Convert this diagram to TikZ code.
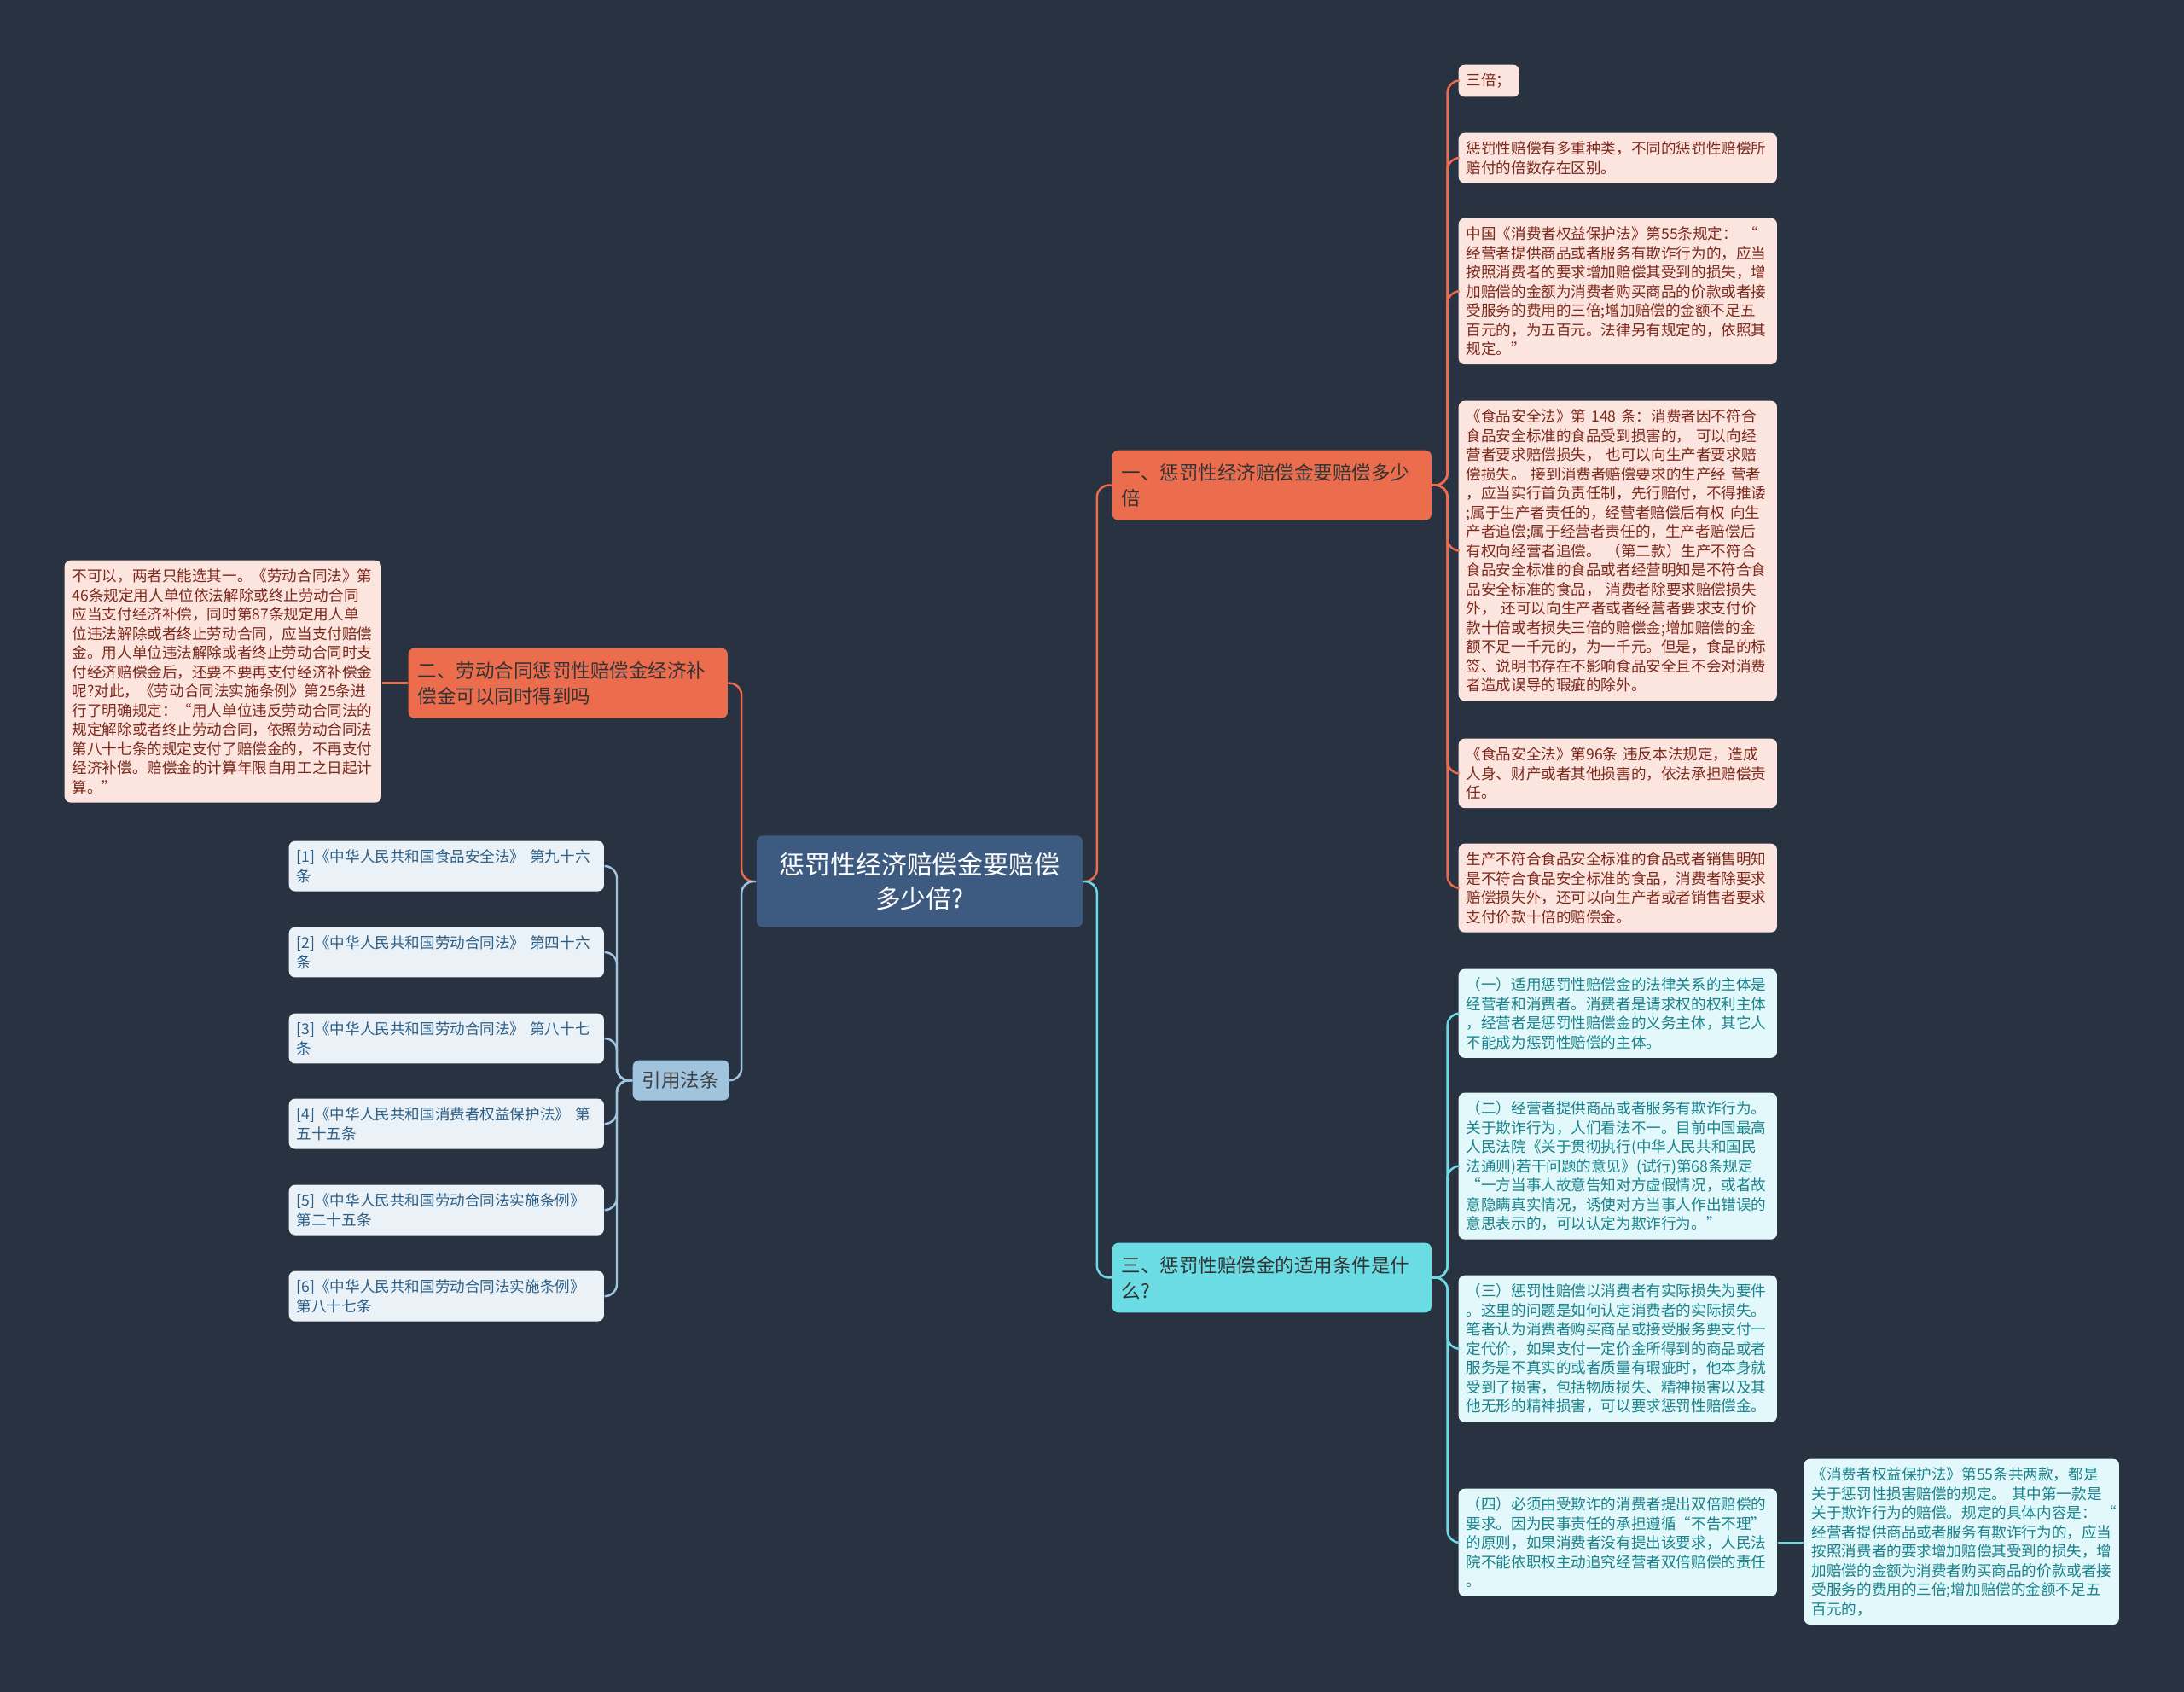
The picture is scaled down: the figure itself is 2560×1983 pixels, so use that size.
\documentclass[tikz,border=0pt]{standalone}
\usepackage{fontspec}
\setmainfont{Noto Sans CJK SC}
\usepackage{tikz}

\definecolor{bgnavy}{RGB}{41,50,65}
\definecolor{rootblue}{RGB}{61,90,128}
\definecolor{orangebr}{RGB}{236,108,78}
\definecolor{orangeleaf}{RGB}{252,229,222}
\definecolor{orangetxt}{RGB}{125,40,28}
\definecolor{cyanbr}{RGB}{108,220,228}
\definecolor{cyanleaf}{RGB}{226,248,250}
\definecolor{cyantxt}{RGB}{25,130,140}
\definecolor{refbr}{RGB}{160,196,222}
\definecolor{refleaf}{RGB}{234,242,248}
\definecolor{reftxt}{RGB}{45,95,135}

\tikzset{
  box/.style={rounded corners=0.07cm, anchor=north west, align=left, inner ysep=0.1cm, inner xsep=0.09cm, text width=3.55cm, font=\fontsize{5}{6.4}\selectfont},
  oleaf/.style={box, fill=orangeleaf, text=orangetxt},
  cleaf/.style={box, fill=cyanleaf, text=cyantxt},
  rleaf/.style={box, fill=refleaf, text=reftxt, text width=3.51cm},
  branch/.style={rounded corners=0.07cm, anchor=north west, align=left, inner ysep=0.155cm, inner xsep=0.11cm, text width=3.52cm, font=\fontsize{6.4}{8.5}\selectfont},
  link/.style={line width=0.7pt, rounded corners=0.14cm}
}

\begin{document}
\begin{tikzpicture}[x=0.01cm, y=-0.01cm]
\fill [bgnavy] (0,0) rectangle (2560,1983);
\useasboundingbox (0,0) rectangle (2560,1983);

\node [rounded corners=0.07cm, fill=rootblue, text=white, align=center, minimum width=3.82cm, minimum height=1.07cm, font=\fontsize{8.5}{11.3}\selectfont] (root) at (1078,1033) {惩罚性经济赔偿金要赔偿\\多少倍?};

\node [branch, fill=orangebr, text=black!80] (b1) at (1303,527) {一、惩罚性经济赔偿金要赔偿多少\\倍};
\node [branch, fill=orangebr, text=black!80] (b2) at (478,759) {二、劳动合同惩罚性赔偿金经济补\\偿金可以同时得到吗};
\node [branch, fill=cyanbr, text=black!80] (b3) at (1303,1456) {三、惩罚性赔偿金的适用条件是什\\么?};
\node [branch, fill=refbr, text=black!75, text width=0.91cm, inner ysep=0.13cm] (cite) at (741,1242) {引用法条};

% % % % % % % % % % % % % % % % % % % % % % % % % %

\node [oleaf, text width=0.53cm] (o1) at (1709,75) {三倍；};
\node [oleaf] (o2) at (1709,155) {惩罚性赔偿有多重种类，不同的惩罚性赔偿所\\
赔付的倍数存在区别。};
\node [oleaf] (o3) at (1709,255) {中国《消费者权益保护法》第55条规定：~“\\
经营者提供商品或者服务有欺诈行为的，应当\\
按照消费者的要求增加赔偿其受到的损失，增\\
加赔偿的金额为消费者购买商品的价款或者接\\
受服务的费用的三倍;增加赔偿的金额不足五\\
百元的，为五百元。法律另有规定的，依照其\\
规定。”};
\node [oleaf] (o4) at (1709,469) {《食品安全法》第 148 条：消费者因不符合\\
食品安全标准的食品受到损害的， 可以向经\\
营者要求赔偿损失， 也可以向生产者要求赔\\
偿损失。 接到消费者赔偿要求的生产经 营者\\
，应当实行首负责任制，先行赔付，不得推诿\\
;属于生产者责任的，经营者赔偿后有权 向生\\
产者追偿;属于经营者责任的，生产者赔偿后\\
有权向经营者追偿。 （第二款）生产不符合\\
食品安全标准的食品或者经营明知是不符合食\\
品安全标准的食品， 消费者除要求赔偿损失\\
外， 还可以向生产者或者经营者要求支付价\\
款十倍或者损失三倍的赔偿金;增加赔偿的金\\
额不足一千元的，为一千元。但是，食品的标\\
签、说明书存在不影响食品安全且不会对消费\\
者造成误导的瑕疵的除外。};
\node [oleaf] (o5) at (1709,865) {《食品安全法》第96条 违反本法规定，造成\\
人身、财产或者其他损害的，依法承担赔偿责\\
任。};
\node [oleaf] (o6) at (1709,988) {生产不符合食品安全标准的食品或者销售明知\\
是不符合食品安全标准的食品，消费者除要求\\
赔偿损失外，还可以向生产者或者销售者要求\\
支付价款十倍的赔偿金。};

\node [cleaf] (c1) at (1709,1135) {（一）适用惩罚性赔偿金的法律关系的主体是\\
经营者和消费者。消费者是请求权的权利主体\\
，经营者是惩罚性赔偿金的义务主体，其它人\\
不能成为惩罚性赔偿的主体。};
\node [cleaf] (c2) at (1709,1280) {（二）经营者提供商品或者服务有欺诈行为。\\
关于欺诈行为，人们看法不一。目前中国最高\\
人民法院《关于贯彻执行(中华人民共和国民\\
法通则)若干问题的意见》(试行)第68条规定\\
“一方当事人故意告知对方虚假情况，或者故\\
意隐瞒真实情况，诱使对方当事人作出错误的\\
意思表示的，可以认定为欺诈行为。”};
\node [cleaf] (c3) at (1709,1494) {（三）惩罚性赔偿以消费者有实际损失为要件\\
。这里的问题是如何认定消费者的实际损失。\\
笔者认为消费者购买商品或接受服务要支付一\\
定代价，如果支付一定价金所得到的商品或者\\
服务是不真实的或者质量有瑕疵时，他本身就\\
受到了损害，包括物质损失、精神损害以及其\\
他无形的精神损害，可以要求惩罚性赔偿金。};
\node [cleaf] (c4) at (1709,1744) {（四）必须由受欺诈的消费者提出双倍赔偿的\\
要求。因为民事责任的承担遵循“不告不理”\\
的原则，如果消费者没有提出该要求，人民法\\
院不能依职权主动追究经营者双倍赔偿的责任\\
。};
\node [cleaf, text width=3.51cm] (c5) at (2114,1709) {《消费者权益保护法》第55条共两款，都是\\
关于惩罚性损害赔偿的规定。 其中第一款是\\
关于欺诈行为的赔偿。规定的具体内容是：~“\\
经营者提供商品或者服务有欺诈行为的，应当\\
按照消费者的要求增加赔偿其受到的损失，增\\
加赔偿的金额为消费者购买商品的价款或者接\\
受服务的费用的三倍;增加赔偿的金额不足五\\
百元的，};

\node [oleaf, anchor=north west, text width=3.53cm] (n2) at (75,656) {不可以，两者只能选其一。《劳动合同法》第\\
46条规定用人单位依法解除或终止劳动合同\\
应当支付经济补偿，同时第87条规定用人单\\
位违法解除或者终止劳动合同，应当支付赔偿\\
金。用人单位违法解除或者终止劳动合同时支\\
付经济赔偿金后，还要不要再支付经济补偿金\\
呢?对此，《劳动合同法实施条例》第25条进\\
行了明确规定：“用人单位违反劳动合同法的\\
规定解除或者终止劳动合同，依照劳动合同法\\
第八十七条的规定支付了赔偿金的，不再支付\\
经济补偿。赔偿金的计算年限自用工之日起计\\
算。”};

\node [rleaf] (r1) at (338,985) {[1]《中华人民共和国食品安全法》 第九十六\\条};
\node [rleaf] (r2) at (338,1086) {[2]《中华人民共和国劳动合同法》 第四十六\\条};
\node [rleaf] (r3) at (338,1187) {[3]《中华人民共和国劳动合同法》 第八十七\\条};
\node [rleaf] (r4) at (338,1287) {[4]《中华人民共和国消费者权益保护法》 第\\五十五条};
\node [rleaf] (r5) at (338,1388) {[5]《中华人民共和国劳动合同法实施条例》\\第二十五条};
\node [rleaf] (r6) at (338,1489) {[6]《中华人民共和国劳动合同法实施条例》\\第八十七条};

% % % % % % % % % % % % % % % % % % % % % % % % % %

\foreach \leaf in {o1,o2,o3,o4,o5,o6}
  \draw [link, orangebr] (b1.east) -- ++(18,0) |- (\leaf.west);
\foreach \leaf in {c1,c2,c3,c4}
  \draw [link, cyanbr] (b3.east) -- ++(18,0) |- (\leaf.west);
\draw [link, cyanbr] (c4.east) -- (c4.east -| c5.west);
\foreach \leaf in {r1,r2,r3,r4,r5,r6}
  \draw [link, refbr] (cite.west) -- ++(-18,0) |- (\leaf.east);
\draw [link, orangebr] (b2.west) -- (b2.west -| n2.east);

\draw [link, orangebr] (root.east) -- ++(16,0) |- (b1.west);
\draw [link, cyanbr] (root.east) -- ++(16,0) |- (b3.west);
\draw [link, orangebr] (root.west) -- ++(-17,0) |- (b2.east);
\draw [link, refbr] (root.west) -- ++(-17,0) |- (cite.east);
\end{tikzpicture}
\end{document}
